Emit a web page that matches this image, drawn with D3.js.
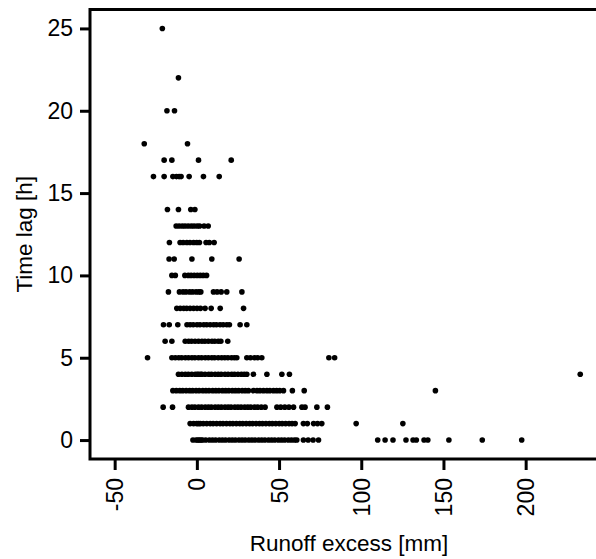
<!DOCTYPE html>
<html>
<head>
<meta charset="utf-8">
<script src="https://cdn.jsdelivr.net/npm/d3@7"></script>
<style>
  html, body { margin: 0; padding: 0; background: #fff; }
  svg { display: block; font-family: Arial, "Liberation Sans", sans-serif; }
</style>
</head>
<body>
<div id="chart"></div>
<script>
/* Time lag vs runoff excess: one row of dots per whole hour of lag. */
var xTicks = [-50, 0, 50, 100, 150, 200];
var yTicks = [0, 5, 10, 15, 20, 25];

var lag25 = [-21];
var lag22 = [-11.2];
var lag20 = [-18.2, -13.6];
var lag18 = [-32, -5.7];
var lag17 = [-19.9, -15.2, 1, 20.9];
var lag16 = [-26.4, -19.9, -14.6, -12.4, -10.8, -9.6, -4.7, 4.0, 13.6];
var lag14 = [-17.9, -11.2, -3.7, -1.2];
var lag13 = [-12.6, -10.8, -8.9, -7.2, -5.3, -3.4, -1.7, 0.2, 1.7, 4.4, 6.9];
var lag12 = [-16.7, -10.2, -8.3, -6.1, -4.2, -2.0, -0.1, 1.6, 5.6, 7.6, 10.5];
var lag11 = [-16.9, -13.8, -3.0, 9.1, 25.7];
var lag10 = [-15.2, -13.1, -7.3, -5.2, -3.5, -1.6, 0.3, 2.1, 3.9, 5.9];
var lag9 = [-17.3, -10.6, -8.4, -6.6, -4.4, -2.6, -0.5, 1.2, 2.4, 10.1, 12.3,
  14.8, 18.2, 27.4];
var lag8 = [-12.2, -10.1, -8.0, -6.2, -4.1, -2.0, 0.1, 2.2, 5.0, 8.7, 14.2, 28.4];
var lag7 = [-20.3, -16.8, -11.6, -6.0, -4.1, -2.2, 0.1, 1.9, 4.2, 6.0, 8.1,
  10.2, 11.9, 14.1, 16.0, 18.2, 19.8, 26.3, 30.4];
var lag6 = [-19.3, -15.2, -7.1, -5.0, -3.2, -1.1, 1.0, 3.1, 4.9, 7.0, 9.2,
  10.9, 13.0, 14.6, 18.8];
var lag5 = [-30, -15.2, -13.1, -11.0, -9.2, -7.0, -5.1, -3.0, -1.2, 1.0, 2.9,
  5.1, 7.0, 9.1, 10.8, 13.0, 15.1, 17.0, 18.9, 21.1, 22.8, 24.3, 30.4, 32.6,
  35.1, 37.0, 39.5, 80.3, 83.8];
var lag4 = [-11.2, -9.1, -7.0, -5.2, -3.1, -1.0, 0.2, 1.1, 2.3, 3.1, 5.0, 7.2,
  8.9, 11.1, 13.0, 14.8, 17.1, 19.0, 21.2, 22.9, 25.0, 27.1, 28.8, 30.4, 34.4,
  42.6, 51.7, 56.3, 233.2];
var lag3 = [-14.6, -12.5, -10.4, -8.6, -6.5, -4.4, -2.6, -0.5, 1.4, 3.6, 5.5,
  7.4, 9.6, 11.5, 13.4, 15.6, 17.5, 19.4, 21.6, 23.5, 25.4, 27.6, 29.5, 31.4,
  34.4, 36.6, 38.4, 40.5, 42.6, 44.4, 46.6, 48.5, 50.4, 52.7, 58.1, 65.3, 145.1];
var lag2 = [-20.5, -14.8, -5.1, -3.0, -1.2, 1.0, 2.9, 5.1, 7.0, 8.8, 11.1, 13.0,
  14.9, 17.1, 19.0, 20.8, 23.1, 25.0, 26.9, 29.1, 31.0, 32.8, 35.1, 37.0, 39.2,
  41.5, 48.7, 51.0, 53.5, 56.0, 58.8, 63.9, 65.8, 73.0, 79.4];
var lag1 = [-4.1, -2.0, -0.1, 1.0, 2.1, 3.9, 6.0, 8.1, 9.9, 12.0, 14.1, 15.9,
  18.0, 20.1, 21.9, 24.0, 26.1, 27.9, 30.0, 32.1, 33.9, 36.0, 38.1, 39.9, 42.0,
  44.1, 45.9, 48.0, 50.1, 51.9, 54.0, 56.1, 57.9, 59.8, 64.8, 67.2, 71.0, 73.4,
  76.0, 96.9, 125.3];
var lag0 = [-2.4, -0.5, 0.6, 1.5, 2.5, 3.5, 5.4, 7.6, 9.5, 11.4, 13.6, 15.5,
  17.4, 19.6, 21.5, 23.4, 25.6, 27.5, 29.4, 31.6, 33.5, 35.4, 37.6, 39.5, 41.4,
  43.6, 45.5, 47.4, 49.6, 51.5, 53.4, 55.6, 57.5, 59.4, 60.8, 64.8, 67.7, 70.7,
  74.0, 110.0, 114.5, 119.3, 127.2, 131.5, 133.5, 138.2, 140.5, 153.3, 173.6,
  197.6];

var rows = [[0, lag0], [1, lag1], [2, lag2], [3, lag3], [4, lag4], [5, lag5],
  [6, lag6], [7, lag7], [8, lag8], [9, lag9], [10, lag10], [11, lag11],
  [12, lag12], [13, lag13], [14, lag14], [16, lag16], [17, lag17], [18, lag18],
  [20, lag20], [22, lag22], [25, lag25]];

(function () {
  var W = 596, H = 559;
  var L = 90, T = 9.5, B = 459, R = 608;

  var points = [];
  rows.forEach(function (r) {
    r[1].forEach(function (v) { points.push({ x: v, y: r[0] }); });
  });

  var x = d3.scaleLinear().domain([-65, 250]).range([L, L + 315 * 1.644]);
  var y = d3.scaleLinear().domain([-1.15, 26.15]).range([B, T]);

  var svg = d3.select("#chart").append("svg")
    .attr("width", W).attr("height", H);

  svg.append("g").selectAll("circle").data(points).join("circle")
    .attr("cx", function (d) { return x(d.x); })
    .attr("cy", function (d) { return y(d.y); })
    .attr("r", 2.8).attr("fill", "#000");

  // frame, right side runs off the page like the original
  svg.append("rect").attr("x", L).attr("y", T)
    .attr("width", R - L).attr("height", B - T)
    .attr("fill", "none").attr("stroke", "#000").attr("stroke-width", 3);

  var yAxis = svg.append("g").attr("transform", "translate(" + L + ",0)")
    .call(d3.axisLeft(y).tickValues(yTicks).tickSize(10).tickPadding(7));
  var xAxis = svg.append("g").attr("transform", "translate(0," + B + ")")
    .call(d3.axisBottom(x).tickValues(xTicks).tickSize(11)
      .tickFormat(function (d) { return String(d); }));

  [yAxis, xAxis].forEach(function (a) {
    a.select(".domain").remove();
    a.attr("font-size", null).attr("font-family", null);
    a.selectAll(".tick line").attr("stroke", "#000").attr("stroke-width", 3);
    a.selectAll(".tick text").attr("fill", "#000")
      .style("font-size", "23px");
  });

  xAxis.selectAll(".tick text")
    .attr("transform", "rotate(-90)")
    .attr("text-anchor", "end")
    .attr("x", -19).attr("y", 0).attr("dy", "0.35em");

  svg.append("text").attr("x", (L + R) / 2).attr("y", 551)
    .attr("text-anchor", "middle").style("font-size", "22.5px")
    .text("Runoff excess [mm]");
  svg.append("text")
    .attr("transform", "translate(32," + (T + B) / 2 + ") rotate(-90)")
    .attr("text-anchor", "middle").style("font-size", "22.5px")
    .text("Time lag [h]");
})();
</script>
</body>
</html>
